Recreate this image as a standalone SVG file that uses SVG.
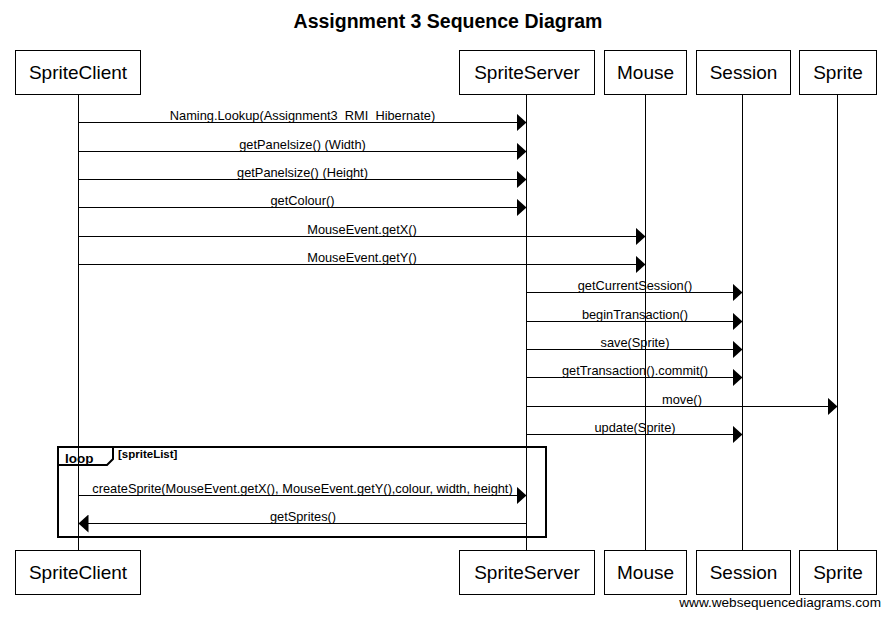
<svg xmlns="http://www.w3.org/2000/svg" width="889" height="618" viewBox="0 0 889 618">
<style>
  .box { fill: #ffffff; stroke: #000000; stroke-width: 1; }
  .pl { font-family: "Liberation Sans", Arial, sans-serif; font-size: 19px; text-anchor: middle; fill: #000; }
  .life { stroke: #000; stroke-width: 1; }
  .msg { stroke: #000; stroke-width: 1; fill: none; marker-end: url(#arr); }
  .ml { font-family: "Liberation Sans", Arial, sans-serif; font-size: 12.8px; text-anchor: middle; fill: #000; }
  .title { font-family: "Liberation Sans", Arial, sans-serif; font-size: 19.5px; font-weight: bold; text-anchor: middle; fill: #000; }
  .frame { fill: none; stroke: #000; stroke-width: 2; }
  .loopt { font-family: "Liberation Sans", Arial, sans-serif; font-size: 13.5px; font-weight: bold; fill: #000; }
  .cond { font-family: "Liberation Sans", Arial, sans-serif; font-size: 11.5px; font-weight: bold; fill: #000; }
  .wm { font-family: "Liberation Sans", Arial, sans-serif; font-size: 13.6px; text-anchor: end; fill: #000; }
</style>
<defs>
  <marker id="arr" viewBox="0 0 10 18" refX="10" refY="9" markerWidth="10" markerHeight="18" markerUnits="userSpaceOnUse" orient="auto">
    <path d="M0,0 L10,9 L0,18 z" fill="#000"/>
  </marker>
</defs>
<rect width="889" height="618" fill="#ffffff"/>
<text class="title" x="448" y="28">Assignment 3 Sequence Diagram</text>

<g id="lifelines">
  <line class="life" x1="78.5" y1="94" x2="78.5" y2="550"/>
  <line class="life" x1="526.5" y1="94" x2="526.5" y2="550"/>
  <line class="life" x1="645.5" y1="94" x2="645.5" y2="550"/>
  <line class="life" x1="742.5" y1="94" x2="742.5" y2="550"/>
  <line class="life" x1="837.5" y1="94" x2="837.5" y2="550"/>
</g>

<g id="SpriteClient">
  <rect class="box" x="15.5" y="50.5" width="125" height="44"/>
  <text class="pl" x="78" y="79">SpriteClient</text>
  <rect class="box" x="15.5" y="550.5" width="125" height="44"/>
  <text class="pl" x="78" y="579">SpriteClient</text>
</g>
<g id="SpriteServer">
  <rect class="box" x="459.5" y="50.5" width="135" height="44"/>
  <text class="pl" x="527" y="79">SpriteServer</text>
  <rect class="box" x="459.5" y="550.5" width="135" height="44"/>
  <text class="pl" x="527" y="579">SpriteServer</text>
</g>
<g id="Mouse">
  <rect class="box" x="604.5" y="50.5" width="82" height="44"/>
  <text class="pl" x="645.5" y="79">Mouse</text>
  <rect class="box" x="604.5" y="550.5" width="82" height="44"/>
  <text class="pl" x="645.5" y="579">Mouse</text>
</g>
<g id="Session">
  <rect class="box" x="696.5" y="50.5" width="94" height="44"/>
  <text class="pl" x="743.5" y="79">Session</text>
  <rect class="box" x="696.5" y="550.5" width="94" height="44"/>
  <text class="pl" x="743.5" y="579">Session</text>
</g>
<g id="Sprite">
  <rect class="box" x="799.5" y="50.5" width="77" height="44"/>
  <text class="pl" x="838" y="79">Sprite</text>
  <rect class="box" x="799.5" y="550.5" width="77" height="44"/>
  <text class="pl" x="838" y="579">Sprite</text>
</g>

<g id="loop">
  <rect class="frame" x="58" y="447" width="488" height="90"/>
  <path class="frame" d="M58,465 L107,465 L113,459 L113,447"/>
  <text class="loopt" x="65" y="463">loop</text>
  <text class="cond" x="118" y="458">[spriteList]</text>
</g>

<g id="connectors">
  <line class="msg" x1="78.5" y1="122.5" x2="526.5" y2="122.5"/>
  <text class="ml" x="302.5" y="120">Naming.Lookup(Assignment3_RMI_Hibernate)</text>
  <line class="msg" x1="78.5" y1="151.5" x2="526.5" y2="151.5"/>
  <text class="ml" x="302.5" y="149">getPanelsize() (Width)</text>
  <line class="msg" x1="78.5" y1="179.5" x2="526.5" y2="179.5"/>
  <text class="ml" x="302.5" y="177">getPanelsize() (Height)</text>
  <line class="msg" x1="78.5" y1="207.5" x2="526.5" y2="207.5"/>
  <text class="ml" x="302.5" y="205">getColour()</text>
  <line class="msg" x1="78.5" y1="236.5" x2="645.5" y2="236.5"/>
  <text class="ml" x="362" y="234">MouseEvent.getX()</text>
  <line class="msg" x1="78.5" y1="264.5" x2="645.5" y2="264.5"/>
  <text class="ml" x="362" y="262">MouseEvent.getY()</text>
  <line class="msg" x1="526.5" y1="292.5" x2="742.5" y2="292.5"/>
  <text class="ml" x="635" y="290">getCurrentSession()</text>
  <line class="msg" x1="526.5" y1="321.5" x2="742.5" y2="321.5"/>
  <text class="ml" x="635" y="319">beginTransaction()</text>
  <line class="msg" x1="526.5" y1="349.5" x2="742.5" y2="349.5"/>
  <text class="ml" x="635" y="347">save(Sprite)</text>
  <line class="msg" x1="526.5" y1="377.5" x2="742.5" y2="377.5"/>
  <text class="ml" x="635" y="375">getTransaction().commit()</text>
  <line class="msg" x1="526.5" y1="406.5" x2="837.5" y2="406.5"/>
  <text class="ml" x="682" y="404">move()</text>
  <line class="msg" x1="526.5" y1="434.5" x2="742.5" y2="434.5"/>
  <text class="ml" x="635" y="432">update(Sprite)</text>
  <line class="msg" x1="78.5" y1="495.5" x2="526.5" y2="495.5"/>
  <text class="ml" x="302.5" y="493">createSprite(MouseEvent.getX(), MouseEvent.getY(),colour, width, height)</text>
  <line class="msg" x1="526.5" y1="523.5" x2="78.5" y2="523.5"/>
  <text class="ml" x="303" y="521">getSprites()</text>
</g>

<text class="wm" x="881" y="607">www.websequencediagrams.com</text>
</svg>
